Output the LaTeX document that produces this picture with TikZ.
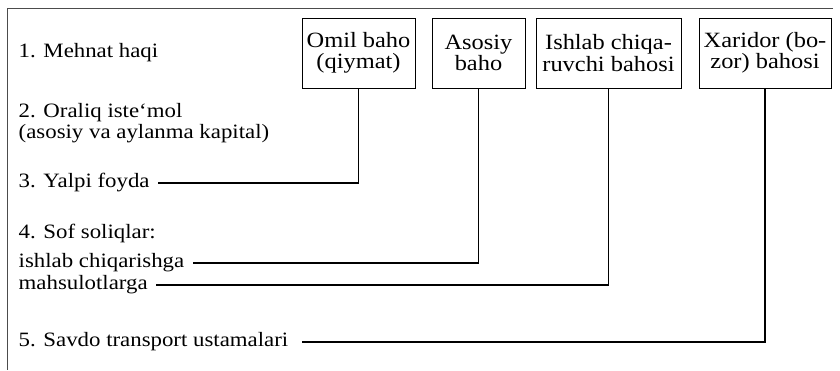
\documentclass[tikz,border=0pt]{standalone}
\usepackage{fontspec}
\setmainfont{Liberation Serif}[FakeStretch=1.12]
\tikzstyle{baho}=[draw, line width=0.6pt, align=center, inner sep=0pt, minimum height=1.75cm, font=\fontsize{15.5}{15}\selectfont]
\newcommand{\baho}{\node[baho]}
\tikzstyle{qator}=[anchor=west, align=left, inner ysep=0pt, inner xsep=6pt, font=\fontsize{14.5}{14.5}\selectfont]
\newcommand{\qator}{\node[qator]}
\tikzstyle{ulash}=[line width=1pt]

\begin{document}
\begin{tikzpicture}[x=0.025cm, y=-0.025cm]
            \useasboundingbox (0,0) rectangle (840,370);
            \draw[line width=0.5pt, black!70] (833,8) -- (7,8) -- (7,370);
            \baho[minimum width=2.825cm] (omil) at (358.5,53) {Omil baho\\(qiymat)};
            \baho[minimum width=2.325cm] (asosiy) at (478.5,53) {Asosiy\\baho};
            \baho[minimum width=3.625cm] (ishlab) at (608.5,53) {Ishlab chiqa-\\ruvchi bahosi};
            \baho[minimum width=3.3cm] (xaridor) at (765,53) {Xaridor (bo-\\zor) bahosi};
            \qator (mehnat) at (10,53) {1. Mehnat haqi};
            \qator (oraliq) at (10,123) {2. Oraliq iste`mol\\(asosiy va aylanma kapital)};
            \qator (yalpi) at (10,183) {3. Yalpi foyda};
            \qator (sof) at (10,233) {4. Sof soliqlar:};
            \qator (ichki) at (10,263) {ishlab chiqarishga};
            \qator (mahsul) at (10,285) {mahsulotlarga};
            \qator (savdo) at (10,342) {5. Savdo transport ustamalari};
            \coordinate (savdo end) at (302,342);
            \draw[ulash] (omil.south) |- (yalpi.east);
            \draw[ulash] (asosiy.south) |- (ichki.east);
            \draw[ulash] (ishlab.south) |- (mahsul.east);
            \draw[ulash] (xaridor.south) |- (savdo end);
        \end{tikzpicture}
\end{document}
